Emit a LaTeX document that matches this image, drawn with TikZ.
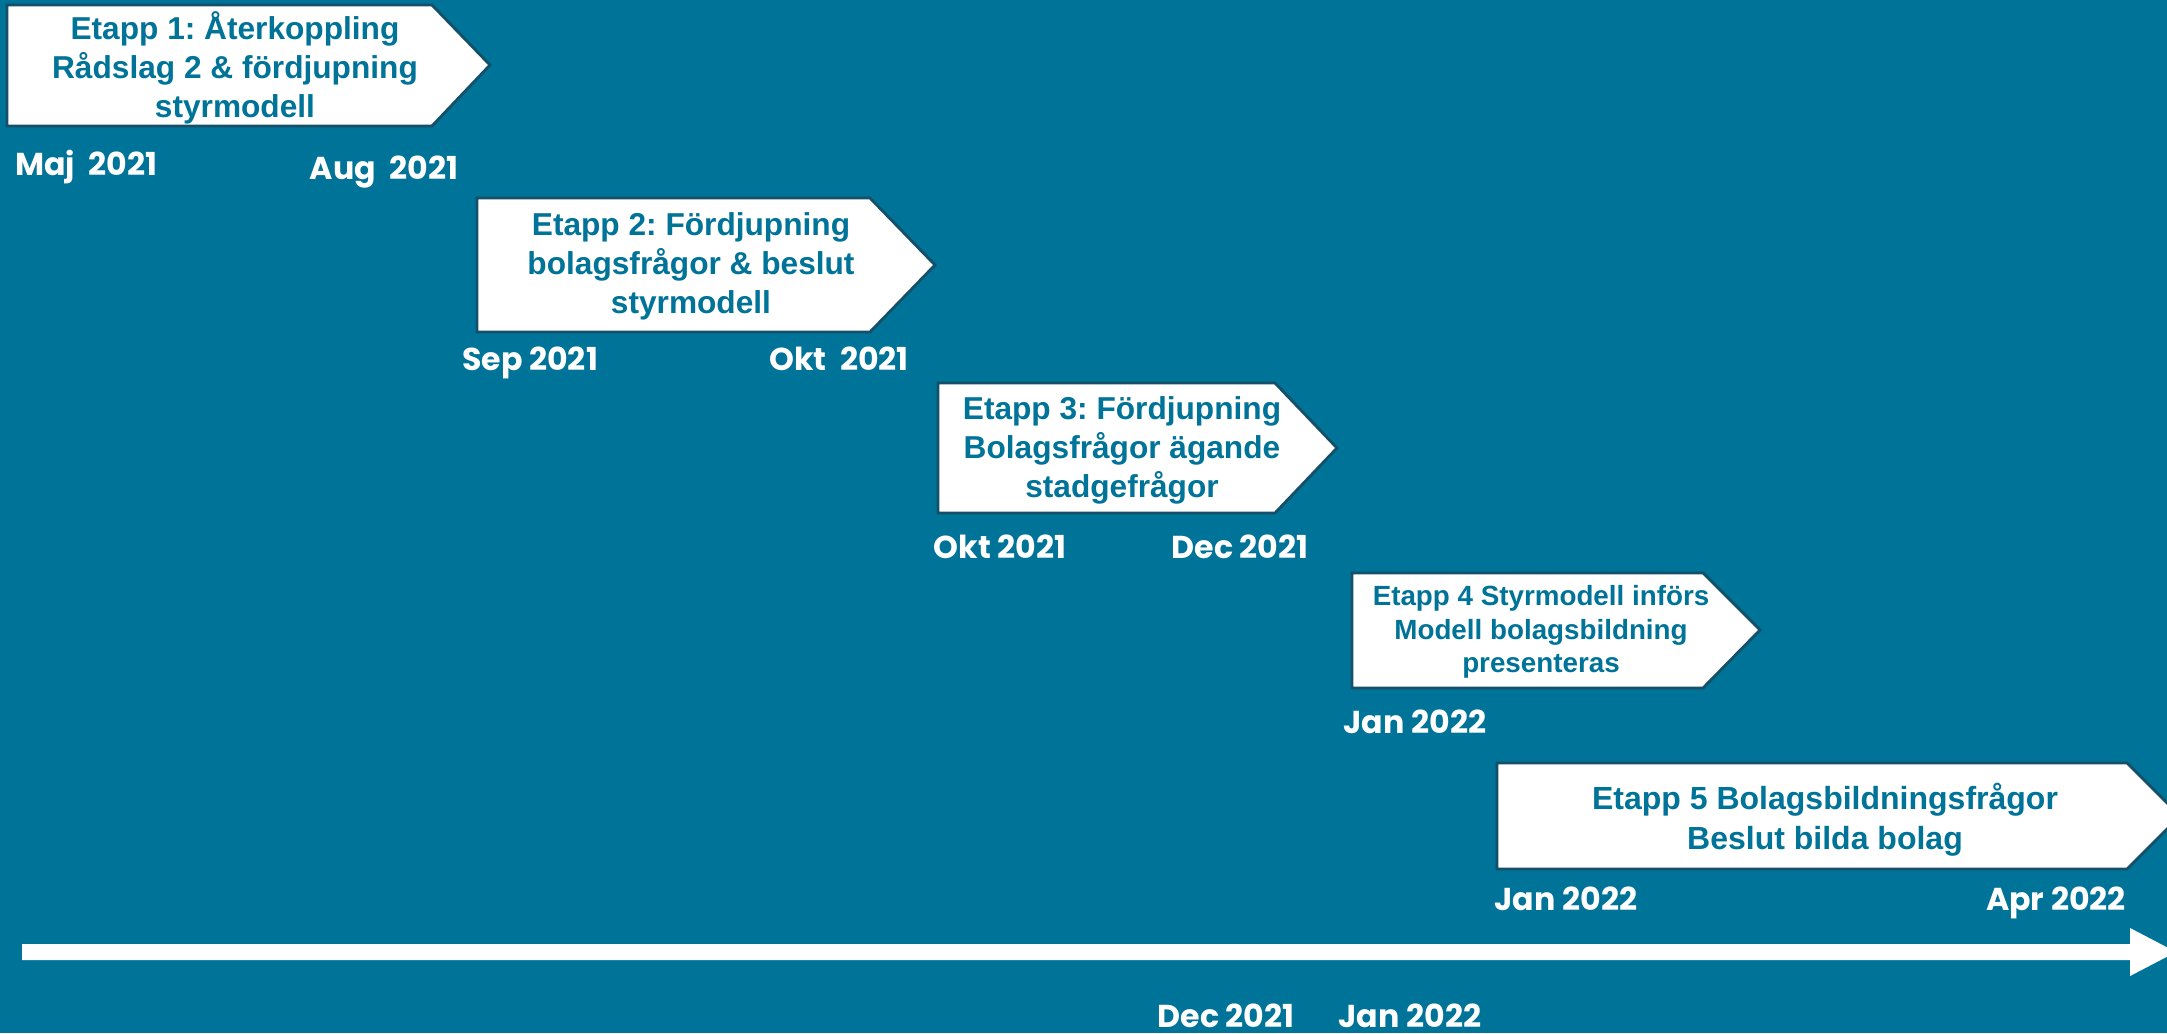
\documentclass[tikz,border=0pt]{standalone}
\usepackage{fontspec}
\setmainfont{Liberation Sans}
\newfontfamily\datefont{Poppins}
\frenchspacing
\definecolor{bg}{RGB}{0,115,152}
\definecolor{boxline}{RGB}{20,80,105}
\begin{document}
\begin{tikzpicture}[x=0.01cm,y=-0.01cm,
  stage/.style={fill=white,draw=boxline,line width=0.8pt,line join=miter},
  stagetext/.style={text=bg,align=center,font=\fontsize{9.0pt}{11.1pt}\selectfont\bfseries,inner sep=0pt},
  stagetextsmall/.style={text=bg,align=center,font=\fontsize{7.9pt}{9.6pt}\selectfont\bfseries,inner sep=0pt},
  stagetextlarge/.style={text=bg,align=center,font=\fontsize{9.1pt}{11.3pt}\selectfont\bfseries,inner sep=0pt},
  datelbl/.style={text=white,font=\datefont\bfseries\fontsize{9.0pt}{10pt}\selectfont,inner sep=0pt,anchor=base}]
\useasboundingbox (0,0) rectangle (2167,1033);
\fill[bg] (0,0) rectangle (2167,1033);
\clip (0,0) rectangle (2167,1033);

% stage arrows
\draw[stage] (7,5) -- (432,5) -- (490,65) -- (432,126) -- (7,126) -- cycle;
\draw[stage] (477,198) -- (870,198) -- (935,265) -- (870,332) -- (477,332) -- cycle;
\draw[stage] (938,383) -- (1275,383) -- (1337,448) -- (1275,513) -- (938,513) -- cycle;
\draw[stage] (1352,573) -- (1703,573) -- (1760,630) -- (1703,688) -- (1352,688) -- cycle;
\draw[stage] (1497,763) -- (2127,763) -- (2180,816) -- (2127,869) -- (1497,869) -- cycle;

\node[stagetext] (t1) at (235,68) {Etapp 1: Återkoppling\\Rådslag 2 \& fördjupning\\styrmodell};
\node[stagetext] (t2) at (691,266) {Etapp 2: Fördjupning\\bolagsfrågor \& beslut\\styrmodell};
\node[stagetext] (t3) at (1122,450) {Etapp 3: Fördjupning\\Bolagsfrågor ägande\\stadgefrågor};
\node[stagetextsmall] (t4) at (1541,632) {Etapp 4 Styrmodell införs\\Modell bolagsbildning\\presenteras};
\node[stagetextlarge] (t5) at (1825,820) {Etapp 5 Bolagsbildningsfrågor\\Beslut bilda bolag};

% date labels
\node[datelbl] (d1) at (86,175) {Maj\ \ 2021};
\node[datelbl] (d2) at (384,179) {Aug\ \ 2021};
\node[datelbl] (d3) at (530,370) {Sep 2021};
\node[datelbl] (d4) at (839,370) {Okt\ \ 2021};
\node[datelbl] (d5) at (1000,558) {Okt 2021};
\node[datelbl] (d6) at (1240,558) {Dec 2021};
\node[datelbl] (d7) at (1415,733) {Jan 2022};
\node[datelbl] (d8) at (1566,910) {Jan 2022};
\node[datelbl] (d9) at (2056,910) {Apr 2022};
\node[datelbl] (d10) at (1226,1027) {Dec 2021};
\node[datelbl] (d11) at (1410,1027) {Jan 2022};

% timeline
\fill[white] (22,944) -- (2130,944) -- (2130,928) -- (2176,952) -- (2130,976) -- (2130,960) -- (22,960) -- cycle;
\end{tikzpicture}
\end{document}
